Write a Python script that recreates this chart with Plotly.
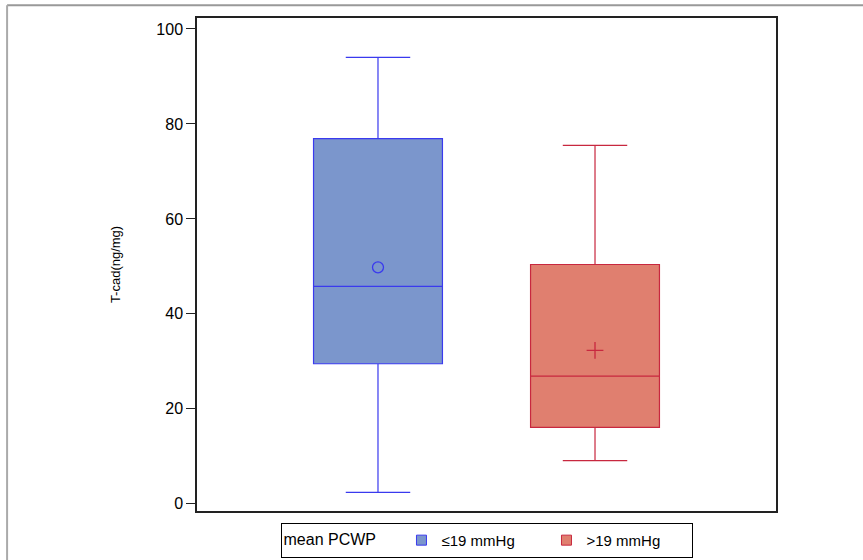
import plotly.graph_objects as go

# ---- data ----
groups = ["≤19 mmHg", ">19 mmHg"]
group_pos = [0, 1]
q1 = [29.5, 16.1]
median = [45.8, 26.9]
q3 = [76.9, 50.4]
lower = [2.4, 9.1]
upper = [94.0, 75.5]
mean = [49.8, 32.3]
y_ticks = [0, 20, 40, 60, 80, 100]

fill_colors = ["#7b96cc", "#e07f6f"]
line_colors = ["#3a3aee", "#c8283f"]
mean_symbols = ["circle-open", "cross-thin-open"]
mean_sizes = [11, 12]

fig = go.Figure()
for i in range(2):
    fig.add_trace(go.Box(
        x=[group_pos[i]], q1=[q1[i]], median=[median[i]], q3=[q3[i]],
        lowerfence=[lower[i]], upperfence=[upper[i]],
        fillcolor=fill_colors[i], line=dict(color=line_colors[i], width=1.2),
        width=0.594, whiskerwidth=0.5, boxpoints=False, showlegend=False,
        hoverinfo="skip",
    ))
    fig.add_trace(go.Scatter(
        x=[group_pos[i]], y=[mean[i]], mode="markers",
        marker=dict(symbol=mean_symbols[i], size=mean_sizes[i],
                    color=line_colors[i], line=dict(color=line_colors[i], width=1.3)),
        showlegend=False, hoverinfo="skip",
    ))
for i in range(2):
    fig.add_trace(go.Scatter(
        x=[None], y=[None], mode="markers", name=groups[i],
        marker=dict(symbol="square", size=10, color=fill_colors[i],
                    line=dict(color=line_colors[i], width=1)),
    ))

font_family = "Liberation Sans, Arial, sans-serif"
fig.update_layout(
    width=863, height=560,
    margin=dict(l=197, r=87, t=18, b=46),
    paper_bgcolor="white", plot_bgcolor="white",
    font=dict(family=font_family, color="#000000"),
    xaxis=dict(range=[-0.834, 1.834], showticklabels=False, ticks="",
               showgrid=False, zeroline=False, showline=True, mirror=True,
               linecolor="#222222", linewidth=1.5, fixedrange=True),
    yaxis=dict(range=[-1.48, 102.3], tickvals=y_ticks, ticks="outside", ticklen=9,
               tickwidth=1, tickcolor="#222222", tickfont=dict(size=16),
               showgrid=False, zeroline=False, showline=True, mirror=True,
               linecolor="#222222", linewidth=1.5, automargin=False,
               title=dict(text="T-cad(ng/mg)", font=dict(size=13), standoff=33)),
    legend=dict(orientation="h", x=0.5, xanchor="center", xref="paper",
                y=0.035, yanchor="middle", yref="container",
                bordercolor="#000000", borderwidth=1, font=dict(size=15),
                title=dict(text="mean PCWP    ", font=dict(size=16)),
                tracegroupgap=0, itemwidth=30, entrywidth=100,
                entrywidthmode="pixels"),
    shapes=[
        dict(type="line", xref="paper", yref="paper", x0=-0.328, x1=1.2,
             y0=1.026, y1=1.026, line=dict(color="#999999", width=2)),
        dict(type="line", xref="paper", yref="paper", x0=-0.328, x1=-0.328,
             y0=1.026, y1=-0.2, line=dict(color="#aaaaaa", width=2)),
    ],
)

fig.write_html("out.html", config={"displayModeBar": False},
               post_script="document.body.style.margin='0';")
